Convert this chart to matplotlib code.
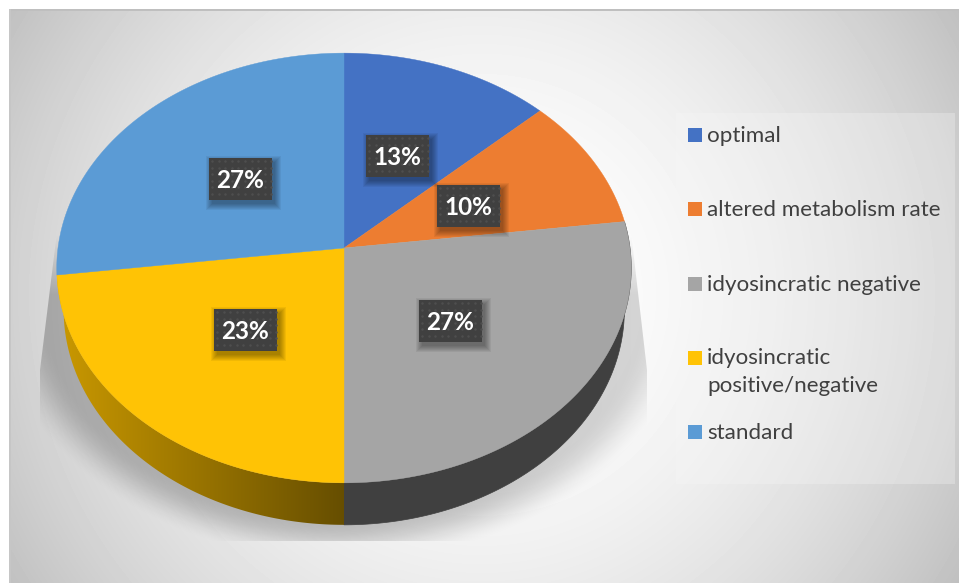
# Pie of response types with a tilted 3D look, drawn in pixel coordinates
import numpy as np
import matplotlib.pyplot as plt
from matplotlib.patches import Polygon, Rectangle

categories = ['optimal', 'altered metabolism rate', 'idyosincratic negative',
              'idyosincratic\npositive/negative', 'standard']
shares = [13, 10, 27, 23, 27]

slice_colors = ['#4472C4', '#ED7D31', '#A5A5A5', '#FFC305', '#5B9BD5']
label_boxes = [(366, 135), (437, 185), (419, 300), (214, 309), (209, 158)]
legend_rows = [135, 209, 284, 358, 432]

W, H = 959, 583
plt.rcParams['font.family'] = ['Lato', 'DejaVu Sans']

fig = plt.figure(figsize=(W / 100, H / 100), dpi=100, facecolor='white')
ax = fig.add_axes([0, 0, 1, 1])

# Perspective projection of the pie's unit circle, apex sits above the ellipse centre
APEX_X, APEX_Y = 344, 248
RX, RY, TILT = 286, 213, 0.093
DEPTH, BASE_SCALE = 42, 0.976

def project(theta):
    s, c = np.sin(theta), np.cos(theta)
    den = 1 + TILT * c
    return APEX_X + RX * s / den, APEX_Y - RY * c / den

# Background gradient
yy, xx = np.mgrid[0:H, 0:W] + 0.5
dist = np.hypot(xx - 482, yy - 295) / 555
bg = 255 - 63 * np.clip(dist, 0, 1) ** 1.9
ax.imshow(bg, cmap='gray', vmin=0, vmax=255, extent=(0, W, H, 0), aspect='auto',
          interpolation='bilinear', zorder=0)
ax.add_patch(Rectangle((0, 0), 9, H, fc='white', ec='none', zorder=0.5))
ax.add_patch(Rectangle((0, 0), W, 9, fc='white', ec='none', zorder=0.5))
ax.add_patch(Rectangle((9, 9), W - 9, 2, fc='#bfbfbf', ec='none', zorder=0.6))
ax.add_patch(Rectangle((9, 9), 2, H - 9, fc='#c6c6c6', ec='none', zorder=0.6))

# Soft shadow under the pie, cut off by a trapezoid
rs = np.hypot((xx - 344) / 335, (yy - 290) / 258)
fade = np.clip((1.06 - rs) / 0.16, 0, 1)
fade = fade * fade * (3 - 2 * fade)
fade = fade * np.clip((yy - 235) / 60, 0, 1)
fade = fade * (1 - 0.35 * np.clip((xx - 344) / 300, 0, 1))
shadow = np.zeros((H, W, 4))
shadow[..., 3] = 0.23 * fade
trap = Polygon([(57, 232), (40, 370), (40, 541), (647, 541), (647, 370), (631, 232)],
               closed=True, fc='none', ec='none')
ax.add_patch(trap)
im = ax.imshow(shadow, extent=(0, W, H, 0), aspect='auto', zorder=1)
im.set_clip_path(trap)

# Slice boundaries from the shares
edges = np.cumsum([0] + shares) / sum(shares) * 2 * np.pi

def wall_outline(a, b):
    t = np.linspace(a, b, 200)
    x, y = project(t)
    bx = APEX_X + BASE_SCALE * (x - APEX_X)
    by = y + DEPTH
    return np.column_stack([np.r_[x, bx[::-1]], np.r_[y, by[::-1]]])

# Side walls: grey is flat, yellow darkens towards the front
ax.add_patch(Polygon(wall_outline(edges[2], edges[3]), closed=True, fc='#404040', ec='#404040', lw=0.5, zorder=2))
wall = Polygon(wall_outline(edges[3], edges[4]), closed=True, fc='none', ec='none')
ax.add_patch(wall)
t_wall = np.clip((np.arange(50, 345) - 60) / 284, 0, 1)[None, :, None]
ramp = (1 - t_wall) * np.array([201, 152, 0]) + t_wall * np.array([102, 78, 0])
im = ax.imshow(ramp.astype(np.uint8), extent=(50, 345, 540, 250), aspect='auto', zorder=2)
im.set_clip_path(wall)

# Top face
for a, b, color in zip(edges[:-1], edges[1:], slice_colors):
    x, y = project(np.linspace(a, b, 240))
    ax.fill(np.r_[APEX_X, x], np.r_[APEX_Y, y], fc=color, ec=color, lw=0.3, zorder=3)

# Percent labels on dark dotted boxes
BOX_W, BOX_H = 63, 42
for (bx, by), share in zip(label_boxes, shares):
    for grow in range(6, -1, -1):
        ax.add_patch(Rectangle((bx + 3 - grow, by + 4 - grow), BOX_W + 2 * grow, BOX_H + 2 * grow,
                               fc='black', ec='none', alpha=0.055, zorder=4))
    ax.add_patch(Rectangle((bx, by), BOX_W, BOX_H, fc='#404040', ec='none', zorder=5))
    gx, gy = np.meshgrid(np.arange(bx + 3, bx + BOX_W, 6.6), np.arange(by + 3, by + BOX_H, 6.6))
    ax.plot(gx.ravel(), gy.ravel(), ls='none', marker='o', ms=1.8, mec='none', mfc='#4e4e4e', zorder=5.5)
    ax.text(bx + BOX_W / 2, by + BOX_H / 2 + 1.5, f'{share}%', color='white', fontsize=17.5,
            fontweight='bold', ha='center', va='center', zorder=6)

# Legend panel and entries
ax.add_patch(Rectangle((676, 113), 279, 371, fc='#f7f7f7', ec='none', alpha=0.3, zorder=1.5))
for name, row, color in zip(categories, legend_rows, slice_colors):
    ax.add_patch(Rectangle((688, row - 7), 14, 14, fc=color, ec='none', zorder=3))
    if '\n' in name:
        ax.text(707, row - 10, name, color='#404040', fontsize=16.1, ha='left', va='top',
                linespacing=1.5, zorder=3)
    else:
        ax.text(707, row + 1, name, color='#404040', fontsize=16.1, ha='left', va='center', zorder=3)

ax.set_xlim(0, W)
ax.set_ylim(H, 0)
ax.axis('off')

plt.savefig('out.png', dpi=100)
plt.close('all')
